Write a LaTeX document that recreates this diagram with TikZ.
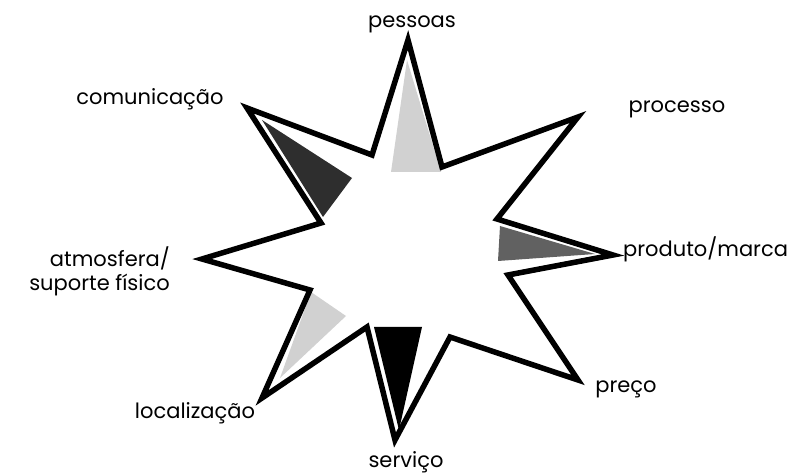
\documentclass[tikz,border=0pt]{standalone}
\usepackage{fontspec}
\setmainfont{Poppins}
\begin{document}
\begin{tikzpicture}[x=1pt,y=-1pt,
  lbl/.style={font=\fontsize{21}{24}\selectfont, inner sep=0pt, anchor=base},
  starline/.style={draw=black, line width=5.5pt, line join=miter, fill=none},
  lightfill/.style={fill=black!18},
  midfill/.style={fill=black!62},
  darkfill/.style={fill=black!82},
  blackfill/.style={fill=black}]
\useasboundingbox (0,0) rectangle (796,473);
% outer tips
\coordinate (T1) at (408,40);
\coordinate (T2) at (578,117);
\coordinate (T3) at (613,255);
\coordinate (T4) at (578,380);
\coordinate (T5) at (395,440);
\coordinate (T6) at (262,398);
\coordinate (T7) at (202,259);
\coordinate (T8) at (247,108);
% inner vertices
\coordinate (I12) at (442,167);
\coordinate (I23) at (497,219);
\coordinate (I34) at (508,275);
\coordinate (I45) at (450,337);
\coordinate (I56) at (367,327);
\coordinate (I67) at (310,290);
\coordinate (I78) at (321,223);
\coordinate (I81) at (372,155);
% shaded triangles
\fill[lightfill] (407,60) -- (391,172) -- (441,172) -- cycle;
\fill[darkfill] (262,120) -- (352,178) -- (323,217) -- cycle;
\fill[midfill] (500,226) -- (498,261) -- (595,254) -- cycle;
\fill[blackfill] (374,327) -- (422,327) -- (399,430) -- cycle;
\fill[lightfill] (311,292) -- (346,316) -- (280,378) -- cycle;
% star outline
\draw[starline] (T1) -- (I12) -- (T2) -- (I23) -- (T3) -- (I34) -- (T4) -- (I45)
  -- (T5) -- (I56) -- (T6) -- (I67) -- (T7) -- (I78) -- (T8) -- (I81) -- cycle;
% labels
\node[lbl] (pessoas) at (412,28) {pessoas};
\node[lbl] (processo) at (677,113) {processo};
\node[lbl, anchor=base west] (produto) at (623,257) {produto/marca};
\node[lbl] (preco) at (626,392) {preço};
\node[lbl] (servico) at (406,467) {serviço};
\node[lbl] (localizacao) at (195,418) {localização};
\node[lbl, anchor=base east] (atmosfera1) at (170,267) {atmosfera/};
\node[lbl, anchor=base east] (atmosfera2) at (170,291) {suporte físico};
\node[lbl] (comunicacao) at (150,105) {comunicação};
\end{tikzpicture}
\end{document}
